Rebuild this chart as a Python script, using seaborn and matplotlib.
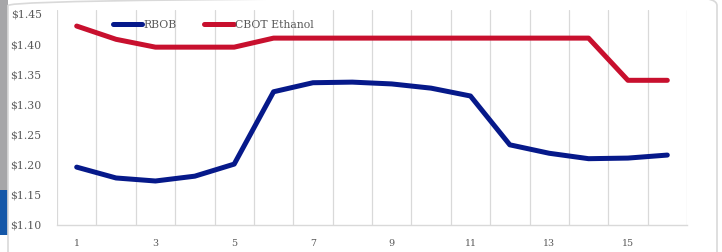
import matplotlib
matplotlib.use("Agg")
import matplotlib.pyplot as plt
import seaborn as sns
import pandas as pd
import numpy as np
from matplotlib.patches import Rectangle, FancyBboxPatch
from matplotlib.ticker import FixedLocator, FuncFormatter

periods = list(range(1, 17))
rbob = [1.196, 1.178, 1.173, 1.181, 1.201, 1.321, 1.336, 1.337,
        1.334, 1.327, 1.314, 1.233, 1.219, 1.210, 1.211, 1.216]
ethanol = [1.430, 1.408, 1.395, 1.395, 1.395, 1.410, 1.410, 1.410,
           1.410, 1.410, 1.410, 1.410, 1.410, 1.410, 1.340, 1.340]
series_names = ["RBOB", "CBOT Ethanol"]
xtick_labels = [1, 3, 5, 7, 9, 11, 13, 15]

df = pd.DataFrame({
    "period": periods * 2,
    "price": rbob + ethanol,
    "series": [series_names[0]] * 16 + [series_names[1]] * 16,
})

sns.set_style("white")
plt.rcParams["font.family"] = ["DejaVu Serif"]

fig = plt.figure(figsize=(7.22, 2.52), dpi=100)
fig.patch.set_facecolor("white")

# decorative frame elements
fig.add_artist(Rectangle((0, 1 - 190 / 252), 8 / 722, 190 / 252, transform=fig.transFigure,
                         facecolor="#a6a6a8", edgecolor="none", zorder=0))
fig.add_artist(Rectangle((0, 1 - 235 / 252), 8 / 722, 45 / 252, transform=fig.transFigure,
                         facecolor="#1457a8", edgecolor="none", zorder=0))
fig.add_artist(FancyBboxPatch((8 / 722, -0.2), (717 - 8) / 722, 1 - 250 / 252 + 1.2,
                              boxstyle="round,pad=0,rounding_size=0.03",
                              transform=fig.transFigure, facecolor="none",
                              edgecolor="#d9d9d9", linewidth=1.2, zorder=0))

# axes spans y=10..225 px; 1.10 at 225 px, 1.45 at 14 px
ax = fig.add_axes([57 / 722, 1 - 225 / 252, (687 - 57) / 722, (225 - 10) / 252])
ax.set_facecolor("none")

sns.lineplot(data=df, x="period", y="price", hue="series",
             palette={"RBOB": "#06198a", "CBOT Ethanol": "#c8102e"},
             linewidth=3.6, ax=ax, legend=True)

ax.set_xlim(0.5, 16.5)
ax.set_ylim(1.10, 1.10 + 0.35 * 215 / 211)
ax.xaxis.set_major_locator(FixedLocator(xtick_labels))
ax.xaxis.set_minor_locator(FixedLocator(np.arange(0.5, 17, 1.0)))
ax.set_yticks(np.arange(1.10, 1.4501, 0.05))
ax.yaxis.set_major_formatter(FuncFormatter(lambda v, p: f"${v:.2f}"))
ax.grid(False)
ax.grid(True, which="minor", axis="x", color="#d9d9d9", linewidth=0.9)
ax.tick_params(axis="both", which="both", length=0)
ax.tick_params(axis="y", labelsize=7.8, labelcolor="#595959", pad=11)
ax.tick_params(axis="x", labelsize=6.8, labelcolor="#595959", pad=10)
ax.set_xlabel("")
ax.set_ylabel("")
for s in ["top", "right", "left"]:
    ax.spines[s].set_visible(False)
ax.spines["bottom"].set_color("#d9d9d9")
ax.spines["bottom"].set_linewidth(1.0)

leg = ax.legend(loc="upper left", bbox_to_anchor=(0.073, 1.0), ncol=2, frameon=False,
                fontsize=7.8, handlelength=2.7, handletextpad=0.1, columnspacing=2.6,
                labelcolor="#595959")
for line in leg.get_lines():
    line.set_linewidth(3.6)

fig.savefig("out.png", dpi=100, facecolor="white")
